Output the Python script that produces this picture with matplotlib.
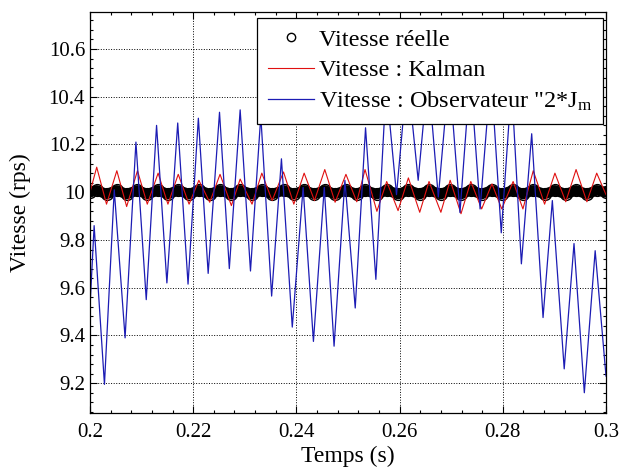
import numpy as np
import matplotlib
matplotlib.use('Agg')
import matplotlib.pyplot as plt
from matplotlib.ticker import AutoMinorLocator

# observer "2*Jm" speed: successive extrema
t_obs = [0.2000, 0.2008, 0.2028, 0.2047, 0.2068, 0.2089, 0.2109, 0.2129, 0.2149, 0.2170,
         0.2190, 0.2210, 0.2229, 0.2251, 0.2270, 0.2291, 0.2311, 0.2331, 0.2352, 0.2371,
         0.2392, 0.2413, 0.2433, 0.2454, 0.2473, 0.2494, 0.2514, 0.2534, 0.2554, 0.2574,
         0.2594, 0.2615, 0.2636, 0.2655, 0.2675, 0.2696, 0.2717, 0.2737, 0.2756, 0.2777,
         0.2797, 0.2817, 0.2836, 0.2856, 0.2878, 0.2896, 0.2919, 0.2938, 0.2958, 0.2979,
         0.3000]
v_obs = [9.52, 9.86, 9.195, 10.01, 9.39, 10.21, 9.55, 10.28, 9.62, 10.29,
         9.615, 10.31, 9.66, 10.335, 9.68, 10.345, 9.67, 10.32, 9.565, 10.14,
         9.435, 10.02, 9.375, 10.02, 9.355, 10.05, 9.515, 10.27, 9.635, 10.45,
         9.99, 10.50, 10.05, 10.50, 9.98, 10.50, 9.915, 10.50, 9.93, 10.50,
         9.83, 10.45, 9.70, 10.245, 9.475, 9.965, 9.26, 9.785, 9.16, 9.755,
         9.23]

# Kalman speed: extrema
t_kal = [0.2000, 0.2013, 0.2032, 0.2052, 0.2071, 0.2092, 0.2111, 0.2132, 0.2151, 0.2171,
         0.2192, 0.2211, 0.2232, 0.2252, 0.2274, 0.2291, 0.2314, 0.2333, 0.2353, 0.2375,
         0.2395, 0.2415, 0.2435, 0.2455, 0.2475, 0.2496, 0.2517, 0.2533, 0.2556, 0.2575,
         0.2597, 0.2617, 0.2639, 0.2657, 0.2680, 0.2698, 0.2719, 0.2738, 0.2759, 0.2779,
         0.2798, 0.2820, 0.2839, 0.2859, 0.2881, 0.2901, 0.2922, 0.2942, 0.2963, 0.2982,
         0.3000]
v_kal = [10.0, 10.105, 9.95, 10.09, 9.94, 10.09, 9.95, 10.08, 9.95, 10.075,
         9.95, 10.05, 9.958, 10.075, 9.944, 10.055, 9.95, 10.08, 9.965, 10.085,
         9.95, 10.08, 9.965, 10.095, 9.958, 10.075, 9.96, 10.095, 9.92, 10.045,
         9.923, 10.06, 9.916, 10.045, 9.916, 10.05, 9.91, 10.045, 9.93, 10.035,
         9.93, 10.045, 9.93, 10.09, 9.95, 10.08, 9.96, 10.095, 9.96, 10.08,
         9.99]

# real speed: small ripple around 10 rps
v_reel = [10.0, 10.008, 9.992, 10.008, 9.992, 10.008, 9.992, 10.008, 9.992, 10.008,
          9.992, 10.008, 9.992, 10.008, 9.992, 10.008, 9.992, 10.008, 9.992, 10.008,
          9.992, 10.008, 9.992, 10.008, 9.992, 10.008, 9.992, 10.008, 9.992, 10.008,
          9.992, 10.008, 9.992, 10.008, 9.992, 10.008, 9.992, 10.008, 9.992, 10.008,
          9.992, 10.008, 9.992, 10.008, 9.992, 10.008, 9.992, 10.008, 9.992, 10.008,
          10.0]

x_ticks = [0.2, 0.22, 0.24, 0.26, 0.28, 0.3]
x_labels = ['0.2', '0.22', '0.24', '0.26', '0.28', '0.3']
y_ticks = [9.2, 9.4, 9.6, 9.8, 10.0, 10.2, 10.4, 10.6]
y_labels = ['9.2', '9.4', '9.6', '9.8', '10', '10.2', '10.4', '10.6']

plt.rcParams['font.family'] = ['Liberation Serif', 'DejaVu Serif']
plt.rcParams['mathtext.fontset'] = 'custom'
plt.rcParams['mathtext.rm'] = 'Liberation Serif'
plt.rcParams['mathtext.it'] = 'Liberation Serif'

fig = plt.figure(figsize=(6.19, 4.71), dpi=100)
ax = fig.add_axes([0.1454, 0.1231, 0.8336, 0.8514])

ax.plot(t_kal, v_reel, 'o-', color='k', lw=7.5, ms=8.5, mfc='none', mec='k', mew=1.0,
        label='Vitesse réelle')
ax.plot(t_kal, v_kal, '-', color='#e01010', lw=0.8, label='Vitesse : Kalman')
ax.plot(t_obs, v_obs, '-', color='#1c1cb4', lw=0.9,
        label='Vitesse : Observateur "2*J$_\\mathrm{m}$')

ax.set_xlim(0.2, 0.3)
ax.set_ylim(9.075, 10.755)
ax.set_xticks(x_ticks)
ax.set_xticklabels(x_labels)
ax.set_yticks(y_ticks)
ax.set_yticklabels(y_labels)
ax.xaxis.set_minor_locator(AutoMinorLocator(5))
ax.yaxis.set_minor_locator(AutoMinorLocator(5))
ax.tick_params(which='both', direction='in', top=True, right=True, labelsize=15, width=0.8)
ax.tick_params(which='major', length=5)
ax.tick_params(which='minor', length=2.5)
ax.tick_params(axis='x', pad=7)
ax.grid(True, which='major', linestyle=':', color='k', lw=0.7)
for s in ax.spines.values():
    s.set_linewidth(0.9)

ax.set_xlabel('Temps (s)', fontsize=17, labelpad=3)
ax.set_ylabel('Vitesse (rps)', fontsize=17, labelpad=13)

leg = ax.legend(loc='upper right', bbox_to_anchor=(0.995, 0.986), borderaxespad=0,
                fontsize=17.5, fancybox=False, framealpha=1, edgecolor='k',
                handlelength=1.9, handletextpad=0.2, labelspacing=0.35, borderpad=0.45)
leg.get_frame().set_linewidth(0.9)
h0 = leg.legend_handles[0]
h0.set_linestyle('none')
h0.set_markersize(6)

fig.savefig('out.png', dpi=100)
